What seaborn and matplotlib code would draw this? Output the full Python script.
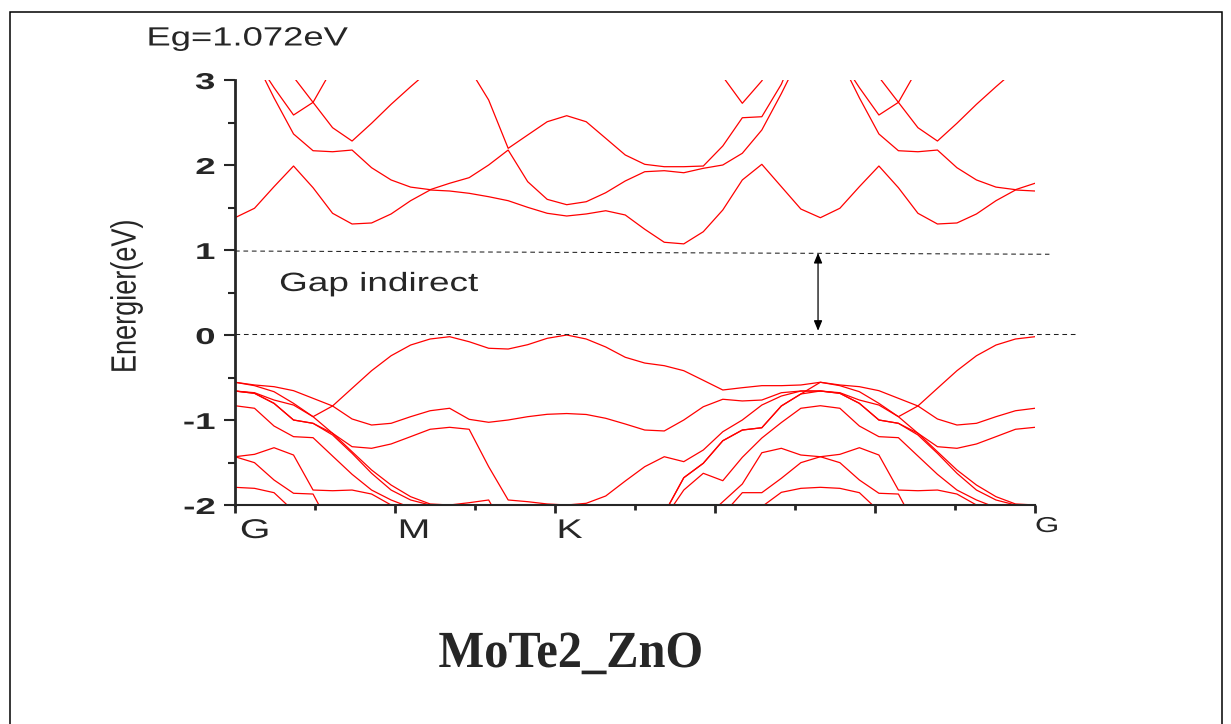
import numpy as np
import pandas as pd
import matplotlib
matplotlib.use("Agg")
import matplotlib.pyplot as plt
import seaborn as sns
from matplotlib.patheffects import AbstractPathEffect, PathEffectRenderer
from matplotlib.transforms import Affine2D, blended_transform_factory, offset_copy
from matplotlib.patches import Rectangle

# ---------------------------------------------------------------------------
# Band-structure data (eV) along the k-path, 42 k-points from Γ to Γ
# ---------------------------------------------------------------------------
k = np.linspace(0.0, 5.0, 42)

# conduction bands
cb1 = [1.380, 1.491, 1.745, 1.988, 1.733, 1.432, 1.306, 1.318, 1.424, 1.580,
       1.706, 1.694, 1.667, 1.627, 1.580, 1.502, 1.432, 1.400, 1.424, 1.462,
       1.412, 1.244, 1.091, 1.072, 1.215, 1.471, 1.824, 2.008, 1.745, 1.482,
       1.380, 1.491, 1.745, 1.988, 1.733, 1.432, 1.306, 1.318, 1.424, 1.580,
       1.706, 1.694]
cb2 = [3.500, 3.250, 2.790, 2.365, 2.168, 2.156, 2.176, 1.968, 1.824, 1.740,
       1.710, 1.785, 1.851, 2.000, 2.176, 1.804, 1.596, 1.533, 1.568, 1.674,
       1.812, 1.921, 1.933, 1.909, 1.961, 2.000, 2.138, 2.412, 2.840, 3.300,
       3.500, 3.250, 2.790, 2.365, 2.168, 2.156, 2.176, 1.968, 1.824, 1.740,
       1.710, 1.785]
cb3 = [3.600, 3.260, 2.910, 2.588, 2.737, 2.439, 2.282, 2.491, 2.714, 2.921,
       3.120, 3.300, 3.140, 2.765, 2.196, 2.353, 2.509, 2.580, 2.509, 2.314,
       2.118, 2.008, 1.980, 1.980, 1.988, 2.224, 2.556, 2.568, 2.950, 3.500,
       3.600, 3.260, 2.910, 2.588, 2.737, 2.439, 2.282, 2.491, 2.714, 2.921,
       3.120, 3.300]
cb4 = [3.900, 3.600, 3.340, 3.035, 2.737, 3.140, 3.500, 3.800, 4.000, 4.100,
       3.900, 3.500, 3.500, 3.600, 3.700, 3.800, 3.850, 3.900, 3.900, 3.850,
       3.800, 3.700, 3.600, 3.450, 3.300, 3.040, 2.726, 2.990, 3.400, 3.700,
       3.900, 3.600, 3.340, 3.035, 2.737, 3.140, 3.500, 3.800, 4.000, 4.100,
       3.900, 3.500]

# valence bands
vb1 = [-0.556, -0.596, -0.667, -0.804, -0.961, -0.835, -0.627, -0.420, -0.244, -0.118,
       -0.047, -0.020, -0.079, -0.156, -0.165, -0.114, -0.039, 0.000, -0.047, -0.141,
       -0.262, -0.330, -0.361, -0.420, -0.533, -0.647, -0.620, -0.596, -0.596, -0.588,
       -0.556, -0.596, -0.667, -0.804, -0.961, -0.835, -0.627, -0.420, -0.244, -0.118,
       -0.047, -0.020]
vb2 = [-0.556, -0.588, -0.608, -0.655, -0.745, -0.835, -0.988, -1.059, -1.039, -0.961,
       -0.891, -0.862, -0.992, -1.027, -1.000, -0.961, -0.933, -0.924, -0.935, -0.980,
       -1.047, -1.118, -1.129, -1.000, -0.844, -0.756, -0.776, -0.765, -0.679, -0.659,
       -0.659, -0.679, -0.765, -0.824, -0.961, -1.156, -1.373, -1.588, -1.765, -1.902,
       -1.988, -2.000]
vb3 = [-0.659, -0.679, -0.765, -0.824, -0.961, -1.156, -1.373, -1.588, -1.765, -1.902,
       -1.988, -2.000, -1.973, -1.941, -2.350, -2.600, -2.700, -2.750, -2.700, -2.600,
       -2.450, -2.300, -2.100, -1.679, -1.509, -1.244, -1.118, -1.091, -0.835, -0.694,
       -0.659, -0.686, -0.804, -1.000, -1.039, -1.176, -1.392, -1.627, -1.824, -1.941,
       -2.000, -2.150]
vb4 = [-0.659, -0.686, -0.804, -1.000, -1.039, -1.176, -1.392, -1.627, -1.824, -1.941,
       -2.000, -2.150, -2.400, -2.600, -2.700, -2.800, -2.850, -2.850, -2.800, -2.700,
       -2.500, -2.300, -2.100, -1.679, -1.509, -1.244, -1.118, -1.091, -0.835, -0.694,
       -0.556, -0.588, -0.608, -0.655, -0.745, -0.835, -0.988, -1.059, -1.039, -0.961,
       -0.891, -0.862]
vb5 = [-0.659, -0.686, -0.804, -1.000, -1.039, -1.156, -1.314, -1.333, -1.282, -1.196,
       -1.109, -1.086, -1.109, -1.549, -1.941, -1.961, -1.988, -2.000, -1.980, -1.894,
       -1.718, -1.549, -1.432, -1.490, -1.353, -1.138, -1.000, -0.824, -0.718, -0.659,
       -0.659, -0.686, -0.804, -1.000, -1.039, -1.156, -1.314, -1.333, -1.282, -1.196,
       -1.109, -1.086]
vb6 = [-0.832, -0.862, -1.071, -1.196, -1.208, -1.424, -1.639, -1.824, -1.941, -2.030,
       -2.300, -2.500, -2.600, -2.700, -2.800, -2.900, -2.900, -2.900, -2.800, -2.700,
       -2.550, -2.400, -2.160, -1.824, -1.627, -1.714, -1.439, -1.212, -1.030, -0.862,
       -0.832, -0.862, -1.071, -1.196, -1.208, -1.424, -1.639, -1.824, -1.941, -2.030,
       -2.300, -2.500]
vb7 = [-1.432, -1.404, -1.326, -1.412, -1.824, -1.832, -1.824, -1.871, -2.000, -2.300,
       -2.500, -2.600, -2.700, -2.800, -2.800, -2.800, -2.800, -2.800, -2.700, -2.600,
       -2.500, -2.400, -2.300, -2.250, -2.170, -1.962, -1.753, -1.385, -1.333, -1.412,
       -1.432, -1.404, -1.326, -1.412, -1.824, -1.832, -1.824, -1.871, -2.000, -2.300,
       -2.500, -2.600]
vb8 = [-1.432, -1.502, -1.706, -1.862, -1.871, -2.300, -2.500, -2.600, -2.700, -2.800,
       -2.900, -3.000, -3.000, -3.000, -3.000, -3.000, -3.000, -3.000, -3.000, -2.900,
       -2.800, -2.700, -2.600, -2.500, -2.300, -2.114, -1.855, -1.855, -1.686, -1.502,
       -1.432, -1.502, -1.706, -1.862, -1.871, -2.300, -2.500, -2.600, -2.700, -2.800,
       -2.900, -3.000]
vb9 = [-1.792, -1.804, -1.855, -2.070, -2.300, -2.500, -2.700, -2.800, -2.900, -3.000,
       -3.100, -3.100, -3.100, -3.100, -3.100, -3.100, -3.100, -3.100, -3.100, -3.000,
       -3.000, -2.900, -2.800, -2.700, -2.500, -2.300, -2.150, -2.020, -1.851, -1.804,
       -1.792, -1.804, -1.855, -2.070, -2.300, -2.500, -2.700, -2.800, -2.900, -3.000,
       -3.100, -3.100]

sym_k = [0.0, 1.0, 2.0, 5.0]
sym_names = ["G", "M", "K", "G"]
e_ticks = [-2, -1, 0, 1, 2, 3]
gap_text = "Eg=1.072eV"
material = "MoTe2_ZnO"


class WidthScale(AbstractPathEffect):
    """Draw text outlines scaled horizontally about its left/right edge or centre."""

    def __init__(self, sx, anchor="center"):
        super().__init__()
        self._sx = sx
        self._anchor = anchor

    def draw_path(self, renderer, gc, tpath, affine, rgbFace=None):
        if isinstance(renderer, PathEffectRenderer):
            renderer = renderer._renderer
        ext = tpath.get_extents(affine)
        if self._anchor == "left":
            x0 = ext.x0
        elif self._anchor == "right":
            x0 = ext.x1
        else:
            x0 = 0.5 * (ext.x0 + ext.x1)
        stretch = Affine2D().translate(-x0, 0).scale(self._sx, 1.0).translate(x0, 0)
        renderer.draw_path(gc, tpath, affine + stretch, rgbFace)


sns.set_style("ticks")
plt.rcParams["font.family"] = ["Liberation Sans", "DejaVu Sans"]

W, H = 1231, 724
fig = plt.figure(figsize=(W / 100, H / 100), dpi=100, facecolor="white")
ax = fig.add_axes([235 / W, 1 - 505 / H, 800 / W, 425 / H])

bands = {"c1": cb1, "c2": cb2, "c3": cb3, "c4": cb4,
         "v1": vb1, "v2": vb2, "v3": vb3, "v4": vb4, "v5": vb5,
         "v6": vb6, "v7": vb7, "v8": vb8, "v9": vb9}
df = pd.concat([pd.DataFrame({"k": k, "E": np.asarray(v), "band": name})
                for name, v in bands.items()], ignore_index=True)

sns.lineplot(data=df, x="k", y="E", units="band", estimator=None,
             color="#ff0000", linewidth=0.9, ax=ax, legend=False)

ax.set_xlim(0, 5)
ax.set_ylim(-2, 3)
ax.set_xlabel("")
ax.set_ylabel("")
sns.despine(ax=ax)
ax.spines["left"].set_linewidth(2.0)
ax.spines["bottom"].set_linewidth(1.5)

# axis ticks
ax.set_xticks(np.arange(0, 6, 1))
ax.set_xticklabels([])
ax.set_xticks(np.arange(0.5, 5, 1), minor=True)
ax.set_yticks(e_ticks)
ax.set_yticklabels([str(v) for v in e_ticks], fontsize=16.5, fontweight="bold")
ax.set_yticks(np.arange(-1.5, 3, 1), minor=True)
ax.tick_params(axis="y", which="major", direction="out", length=7.9, width=1.5, pad=6.5)
ax.tick_params(axis="y", which="minor", direction="out", length=5.4, width=1.5)
ax.tick_params(axis="x", which="major", direction="out", length=5.8, width=2.0)
ax.tick_params(axis="x", which="minor", direction="out", length=3.6, width=2.0)
for lab in ax.get_yticklabels():
    lab.set_path_effects([WidthScale(1.6, "right")])

# high-symmetry point names under the axis
xtrans = blended_transform_factory(ax.transData, ax.transAxes)
for name, kx, dx, dy, size in zip(sym_names, sym_k, [20, 19, 15, 12],
                                  [-33, -33, -33, -27], [19.5, 19.5, 19.5, 15.5]):
    t = ax.text(kx, 0.0, name, ha="center", va="baseline", fontsize=size,
                transform=offset_copy(xtrans, fig=fig, x=dx, y=dy, units="dots"))
    t.set_path_effects([WidthScale(1.45)])

# energy axis title
ax.set_ylabel("Energier(eV)", fontsize=19.5)
ax.yaxis.label.set_verticalalignment("center")
ax.yaxis.set_label_coords((126.5 - 235) / 800, (505 - 296) / 425)
ax.yaxis.label.set_path_effects([WidthScale(1.3)])

# Fermi level and conduction-band edge guides, gap arrow
ax.plot([0.0, 5.09], [0.988, 0.950], color="#202020", lw=0.75,
        dashes=(4.5, 3.6), clip_on=False)
ax.plot([0.0, 5.27], [0.008, 0.008], color="#202020", lw=0.75,
        dashes=(4.5, 3.6), clip_on=False)
ax.annotate("", xy=(3.644, 0.05), xytext=(3.644, 0.965),
            arrowprops=dict(arrowstyle="<|-|>,head_length=0.6,head_width=0.25",
                            color="black", lw=0.9, mutation_scale=10,
                            shrinkA=0, shrinkB=0))
t = ax.text(0.9, 0.518, "Gap indirect", ha="center", va="baseline", fontsize=19)
t.set_path_effects([WidthScale(1.4)])

t = fig.text(247.5 / W, 1 - 45.5 / H, gap_text, ha="center", va="baseline", fontsize=19)
t.set_path_effects([WidthScale(1.38)])

t = fig.text(571 / W, 1 - 667 / H, material, ha="center", va="baseline",
             fontsize=37.5, fontweight="bold", family=["Liberation Serif", "DejaVu Serif"])
t.set_path_effects([WidthScale(0.93)])

# page frame
fig.add_artist(Rectangle((10 / W, -0.02), (1222 - 10) / W, 1 - 11.5 / H + 0.02,
                         transform=fig.transFigure, fill=False,
                         edgecolor="black", linewidth=1.1))

fig.savefig("out.png", dpi=100, facecolor="white")
